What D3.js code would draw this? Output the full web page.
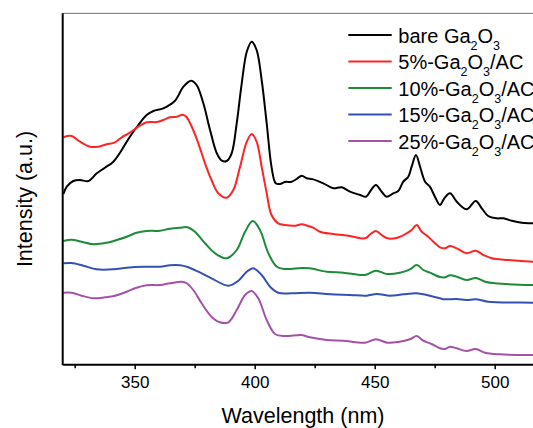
<!DOCTYPE html>
<html>
<head>
<meta charset="utf-8">
<script src="https://cdn.jsdelivr.net/npm/d3@7/dist/d3.min.js"></script>
<style>
  html, body { margin: 0; padding: 0; background: #fff; }
  svg { display: block; font-family: "Liberation Sans", Arial, Helvetica, sans-serif; }
</style>
</head>
<body>
<svg id="chart" width="533" height="428"></svg>
<script>
// Photoluminescence spectra, Ga2O3 and Ga2O3/AC composites (arbitrary intensity units)
const seriesNames = ["bare", "5%", "10%", "15%", "25%"];
const seriesColors = ["#000000", "#ff2424", "#1e8a3c", "#3550b2", "#a452a8"];

const bareWl = [320.3, 321.7, 324.4, 327.2, 330.7, 334.2, 337.6, 341.1, 344.6, 348, 351.5, 355, 357.8, 361.9, 366.8, 370.3, 373.5, 375.8, 378.6, 381.4, 384.2, 386.3, 388.3, 390.4, 392.5, 394.6, 396.7, 398.75, 400.8, 402.9, 405, 407, 408.75, 410.5, 412.6, 415.4, 417.5, 419.6, 421.7, 424, 428.6, 432.75, 436.25, 439.7, 443.9, 446.4, 448.5, 450.5, 452.9, 455, 457.75, 459.8, 461.9, 464, 465.4, 467.2, 468.9, 471, 473, 475.1, 477.2, 479, 481.4, 484.2, 488.3, 492.1, 494.6, 497.3, 500.8, 503.6, 507.1, 511.25, 516, 520];
const bareI = [170.3, 177.6, 183.3, 184.3, 183.3, 191, 196.6, 202.6, 214.3, 227.6, 239.3, 249.3, 253.3, 256, 263.6, 277.6, 283.6, 279.3, 261, 234.3, 211, 203.6, 203.3, 211, 241, 281, 312.6, 322.6, 314.3, 284.3, 241, 197.6, 181, 180.3, 182.3, 182.6, 185.3, 188.6, 186, 185.2, 181, 176, 177, 172.6, 169.3, 167.6, 174.3, 179.3, 172.6, 167.6, 171, 173.3, 182.6, 187.6, 197.6, 209.3, 197.6, 182.6, 177.6, 167.6, 159.3, 166, 171, 162.6, 155, 163.3, 156, 148.3, 146, 146, 143.6, 141.6, 141, 140.3];

const ac5Wl = [320.3, 323.7, 327.2, 331.4, 334.8, 338.3, 341.8, 344.6, 348, 351.5, 355, 359.2, 361.9, 364.7, 367.5, 370, 371.5, 373.5, 376.5, 379.3, 382, 384.8, 388.3, 391.1, 393.9, 396.7, 398.75, 400.8, 402.9, 405, 407, 409.8, 412.6, 416.8, 419.6, 422.3, 424.5, 427.2, 432.75, 439.7, 446, 448.3, 450.5, 452.9, 455.25, 459.4, 463.3, 465.4, 467.5, 469.6, 472.3, 475.1, 477.2, 479.3, 481.4, 484.2, 488.3, 492.1, 495.3, 498.75, 505.7, 516, 520];
const ac5I = [227, 228.3, 222.6, 217.6, 217.6, 220, 222, 227, 231.6, 237.6, 242, 242.3, 244.3, 247, 247.6, 249.6, 247.5, 239, 221, 201, 184.3, 171, 166.6, 174.3, 197.6, 222.6, 230.3, 222.6, 197.6, 171, 149.3, 141, 139.3, 138.6, 140, 138.3, 136.5, 132.6, 130.3, 128.3, 126, 130.3, 133.3, 129.3, 126, 126.6, 131, 134.3, 139.3, 132.6, 127.6, 121, 117, 116, 118.3, 116, 111, 113.6, 109.3, 106, 104.3, 102.6, 102.3];

const ac10Wl = [320.3, 323.7, 327.9, 332.8, 338.3, 342.5, 346.7, 350.8, 355, 360.5, 364.7, 368.9, 372, 375.1, 379.3, 383.5, 388.3, 392.5, 396, 399.2, 402.2, 405.7, 409.2, 412.6, 419.6, 423, 430, 437, 446, 450.5, 455.25, 460.5, 464.7, 467.5, 470.25, 473, 477.2, 479.3, 481.4, 484.2, 488.3, 492.1, 496, 500.1, 516, 520];
const ac10I = [123.3, 124.6, 122.6, 120, 121.6, 124.3, 127.6, 131.6, 133.3, 133.6, 135.6, 136.6, 137, 132.6, 121, 111, 106, 114.3, 132.6, 143.3, 134.3, 111, 97.6, 95.3, 96.3, 96, 92.6, 91.6, 89.3, 93.6, 90.3, 91.6, 95, 99.3, 94.3, 91.6, 87.3, 87, 89, 87.6, 84.3, 86.3, 82.6, 81, 79.3, 79.3];

const ac15Wl = [320.3, 323.7, 328.6, 334.2, 341.1, 346.7, 353.6, 360.5, 364.7, 368.9, 372, 376.5, 382, 389, 393.2, 396.7, 399.4, 402.9, 406.4, 409.8, 415.4, 423, 431.4, 439.7, 446.7, 450.8, 456.4, 461.9, 467.5, 471.7, 477.2, 479.3, 484.2, 488.3, 492.1, 497.3, 516, 520];
const ac15I = [101, 101.3, 98.6, 95, 95, 96.6, 97.6, 97.6, 99, 99, 97.3, 92.6, 86, 78.6, 83.6, 92.6, 96, 89.3, 77.6, 71.6, 71, 71.6, 70, 69.3, 68.6, 70.3, 68.6, 70, 71, 69.3, 66, 65, 65.3, 64.3, 65, 62.6, 61.6, 61.3];

const ac25Wl = [320.3, 323.7, 327.9, 332.8, 337.6, 341.8, 346.7, 350.8, 355, 360.5, 364.7, 369.6, 371.5, 374.4, 377.9, 382, 385.5, 389, 392.5, 396, 398.75, 401.5, 405, 408.5, 412.6, 419.6, 423, 430, 437, 446, 450.5, 455.25, 459.8, 464.7, 467.5, 470.25, 473.7, 477.2, 479.3, 481.4, 484.2, 488.3, 492.1, 496, 502, 516, 520];
const ac25I = [71.6, 71.6, 68.6, 66, 67, 68.6, 72.6, 76.6, 79, 79.3, 81, 82.6, 81.3, 74.3, 61, 47.6, 42, 42, 54.3, 69.3, 73.3, 66, 44.3, 30.3, 28.3, 29.3, 27, 24.3, 23.6, 21.6, 25, 21.6, 22.3, 25, 28.3, 23.6, 20.3, 16, 15.3, 17.6, 16, 13.3, 15.3, 11.6, 10, 9.3, 9.3];

const majorTicks = [350, 400, 450, 500];
const minorTicks = [325, 375, 425, 475];
const xTitle = "Wavelength (nm)";
const yTitle = "Intensity (a.u.)";

const series = [
  { wl: bareWl, v: bareI },
  { wl: ac5Wl, v: ac5I },
  { wl: ac10Wl, v: ac10I },
  { wl: ac15Wl, v: ac15I },
  { wl: ac25Wl, v: ac25I }
].map((s, i) => ({
  name: seriesNames[i],
  color: seriesColors[i],
  points: s.wl.map((w, j) => ({ x: w, y: s.v[j] }))
}));

const svg = d3.select("#chart");
const plotLeft = 62.7, plotRight = 542.7, plotTop = 13.3, plotBottom = 364.3;

const x = d3.scaleLinear().domain([320, 520]).range([plotLeft, plotRight]);
const y = d3.scaleLinear().domain([0, 351]).range([plotBottom, plotTop]);

// grey top border of the frame
svg.append("line")
  .attr("x1", plotLeft).attr("x2", 533).attr("y1", plotTop).attr("y2", plotTop)
  .attr("stroke", "#8a8a8a").attr("stroke-width", 1.2);

const line = d3.line()
  .x(d => x(d.x)).y(d => y(d.y))
  .curve(d3.curveCatmullRom.alpha(0.5));

const plot = svg.append("g");
series.forEach(s => {
  plot.append("path")
    .datum(s.points)
    .attr("d", line)
    .attr("fill", "none")
    .attr("stroke", s.color)
    .attr("stroke-width", 2)
    .attr("stroke-linejoin", "round");
});

// minor ticks (no labels)
svg.append("g")
  .attr("transform", `translate(0,${plotBottom})`)
  .call(d3.axisBottom(x).tickValues(minorTicks).tickSize(4).tickSizeOuter(0).tickFormat(""))
  .call(g => g.select(".domain").remove())
  .call(g => g.selectAll(".tick line").attr("stroke", "#000").attr("stroke-width", 1.5));

// major ticks with labels
const xAxis = svg.append("g")
  .attr("transform", `translate(0,${plotBottom})`)
  .call(d3.axisBottom(x).tickValues(majorTicks).tickSize(5).tickSizeOuter(0).tickPadding(7).tickFormat(d3.format("d")));
xAxis.select(".domain").attr("stroke", "#000").attr("stroke-width", 2);
xAxis.selectAll(".tick line").attr("stroke", "#000").attr("stroke-width", 1.5);
xAxis.selectAll(".tick text")
  .attr("fill", "#000")
  .style("font-size", "17px")
  .style("font-family", "'Liberation Sans', Arial, sans-serif");

// left axis line
svg.append("line")
  .attr("x1", plotLeft).attr("x2", plotLeft).attr("y1", plotTop).attr("y2", plotBottom + 1)
  .attr("stroke", "#000").attr("stroke-width", 2);

// axis titles
svg.append("text")
  .attr("x", 303).attr("y", 423)
  .attr("text-anchor", "middle")
  .style("font-size", "21.5px")
  .attr("fill", "#000")
  .text(xTitle);

svg.append("text")
  .attr("transform", "translate(31.5,199) rotate(-90)")
  .attr("text-anchor", "middle")
  .style("font-size", "21.5px")
  .attr("fill", "#000")
  .text(yTitle);

// legend with subscripted formula
const legendLabels = [
  ["bare Ga", "2", "O", "3", ""],
  ["5%-Ga", "2", "O", "3", "/AC"],
  ["10%-Ga", "2", "O", "3", "/AC"],
  ["15%-Ga", "2", "O", "3", "/AC"],
  ["25%-Ga", "2", "O", "3", "/AC"]
];
const legend = svg.append("g");
legendLabels.forEach((parts, i) => {
  const ly = 35 + i * 26.5;
  legend.append("line")
    .attr("x1", 348.3).attr("x2", 391.7).attr("y1", ly).attr("y2", ly)
    .attr("stroke", seriesColors[i]).attr("stroke-width", 2);
  const t = legend.append("text")
    .attr("x", 398.3).attr("y", ly + 7.5)
    .attr("fill", "#000")
    .style("font-size", "20px");
  t.append("tspan").text(parts[0]);
  t.append("tspan").attr("dy", 7).style("font-size", "12.5px").text(parts[1]);
  t.append("tspan").attr("dy", -7).text(parts[2]);
  t.append("tspan").attr("dy", 7).style("font-size", "12.5px").text(parts[3]);
  if (parts[4]) t.append("tspan").attr("dy", -7).text(parts[4]);
});
</script>
</body>
</html>
